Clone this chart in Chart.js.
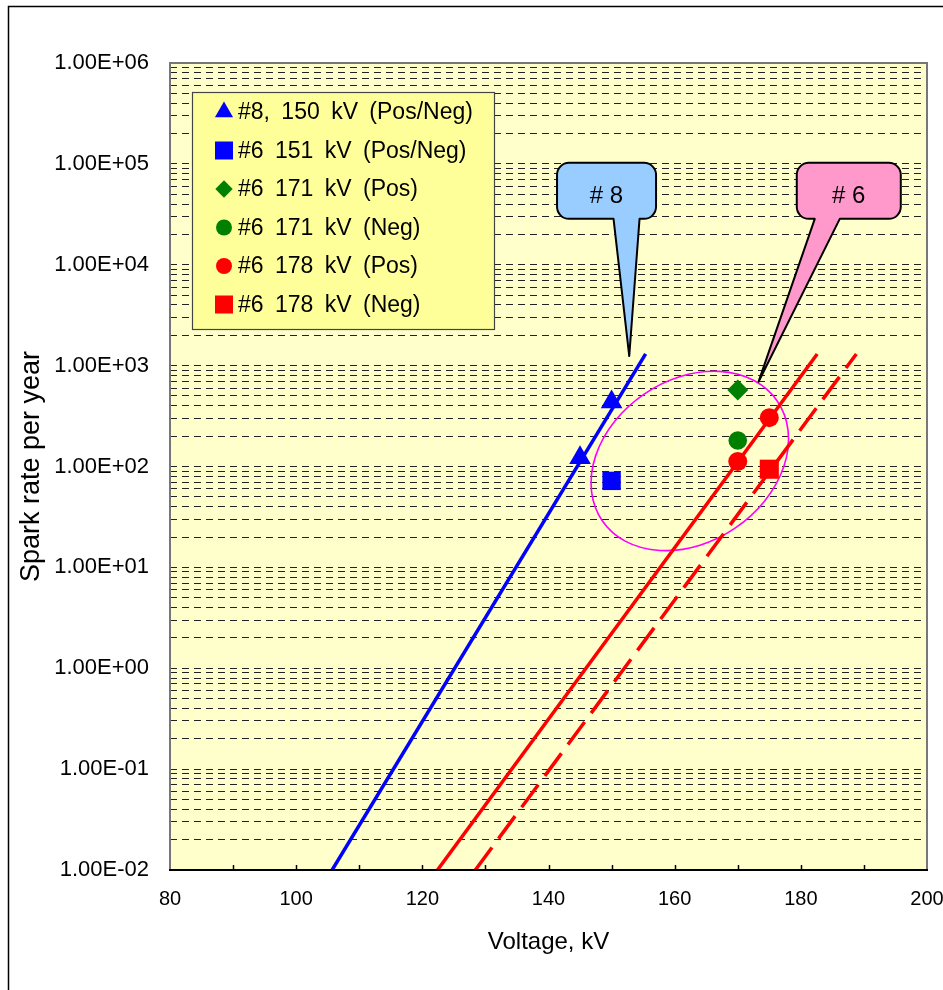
<!DOCTYPE html>
<html>
<head>
<meta charset="utf-8">
<script src="https://cdn.jsdelivr.net/npm/chart.js@4.4.1/dist/chart.umd.min.js"></script>
<style>
  html, body { margin: 0; padding: 0; background: #fff; }
</style>
</head>
<body>
<canvas id="spark" width="943" height="990"></canvas>
<script>
// measured points
const tri8X = [145, 150];
const tri8Y = [122, 437];
const sq6X = [150];
const sq6Y = [72];
const dia171X = [170];
const dia171Y = [574];
const circ171X = [170];
const circ171Y = [181];
const circ178X = [170, 175];
const circ178Y = [112, 305];
const sq178X = [175];
const sq178Y = [94];

// fitted trend lines (end points)
const fit8X = [105.7, 155.4];
const fit8Y = [0.01, 1306];
const fit6PosX = [122.4, 182.6];
const fit6PosY = [0.01, 1306];
const fit6NegX = [128.4, 188.8];
const fit6NegY = [0.01, 1306];

const legendLabels = ['#8, 150 kV (Pos/Neg)', '#6 151 kV (Pos/Neg)', '#6 171 kV (Pos)',
                      '#6 171 kV (Neg)', '#6 178 kV (Pos)', '#6 178 kV (Neg)'];
const yExponents = [-2, -1, 0, 1, 2, 3, 4, 5, 6];
const xMin = 80, xMax = 200, xStep = 20, xMinorStep = 10;

const FONT = "'Liberation Sans', Arial, sans-serif";
Chart.defaults.font.family = FONT;
Chart.defaults.color = '#000';

function pts(xs, ys) {
    return xs.map((x, i) => ({ x: x, y: ys[i] }));
}

function sci(v) {
    const p = Math.floor(Math.log10(v) + 1e-9);
    const m = v / Math.pow(10, p);
    return m.toFixed(2) + 'E' + (p < 0 ? '-' : '+') + String(Math.abs(p)).padStart(2, '0');
}

// annotations, in data units where they point at data
const ellipseNote = { x: 162.4, y: 113.5, rx: 106, ry: 81, angle: -34.3, color: '#FF00FF' };
const callouts = [
    { text: '# 8', x: 149.2, y: 5.4e4, w: 99, h: 56, base: [7, 33], tipX: 152.8, tipY: 1245, fill: '#99CCFF' },
    { text: '# 6', x: 187.6, y: 5.4e4, w: 104, h: 56, base: [-34, -9], tipX: 173.3, tipY: 693, fill: '#FF99CC' }
];

function marker(ctx, style, x, y, r, color) {
    ctx.save();
    ctx.fillStyle = color;
    ctx.beginPath();
    if (style === 'triangle') {
        ctx.moveTo(x, y - r);
        ctx.lineTo(x + r * 0.866, y + r * 0.5);
        ctx.lineTo(x - r * 0.866, y + r * 0.5);
    } else if (style === 'rect') {
        ctx.rect(x - r, y - r, 2 * r, 2 * r);
    } else if (style === 'rectRot') {
        ctx.moveTo(x - r, y); ctx.lineTo(x, y - r); ctx.lineTo(x + r, y); ctx.lineTo(x, y + r);
    } else {
        ctx.arc(x, y, r, 0, Math.PI * 2);
    }
    ctx.closePath();
    ctx.fill();
    ctx.restore();
}
const legendSize = { triangle: 10.5, rect: 9, rectRot: 8.7, circle: 8 };

const decorPlugin = {
    id: 'decor',
    beforeDraw(chart) {
        const { ctx, chartArea: a } = chart;
        ctx.save();
        ctx.fillStyle = '#FFFFCC';
        ctx.fillRect(a.left, a.top, a.right - a.left, a.bottom - a.top);
        ctx.strokeStyle = '#000';
        ctx.lineWidth = 1.5;
        ctx.strokeRect(8.5, 6.5, 1200, 1200);
        ctx.restore();
    },
    beforeDatasetsDraw(chart) {
        const { ctx, scales: { x, y } } = chart;
        const e = ellipseNote;
        ctx.save();
        ctx.strokeStyle = e.color;
        ctx.lineWidth = 1.6;
        ctx.beginPath();
        ctx.ellipse(x.getPixelForValue(e.x), y.getPixelForValue(e.y), e.rx, e.ry, e.angle * Math.PI / 180, 0, Math.PI * 2);
        ctx.stroke();
        ctx.restore();
    },
    afterDatasetsDraw(chart) {
        const { ctx, chartArea: a, scales: { x, y } } = chart;
        ctx.save();
        // plot frame
        ctx.lineWidth = 2;
        ctx.strokeStyle = '#777';
        ctx.beginPath();
        ctx.moveTo(a.left, a.bottom); ctx.lineTo(a.left, a.top); ctx.lineTo(a.right, a.top); ctx.lineTo(a.right, a.bottom);
        ctx.stroke();
        ctx.strokeStyle = '#000';
        ctx.beginPath();
        ctx.moveTo(a.left - 1, a.bottom); ctx.lineTo(a.right + 1, a.bottom);
        ctx.stroke();
        // inside tick marks on the x axis
        ctx.lineWidth = 1.5;
        for (let v = xMin + xMinorStep; v < xMax; v += xMinorStep) {
            const px = Math.round(x.getPixelForValue(v)) + 0.5;
            ctx.beginPath();
            ctx.moveTo(px, a.bottom); ctx.lineTo(px, a.bottom - 5);
            ctx.stroke();
        }

        // legend box
        const lx = a.left + 22, ly = a.top + 29, lw = 302, lh = 237;
        ctx.fillStyle = '#FFFF99';
        ctx.fillRect(lx, ly, lw, lh);
        ctx.strokeStyle = '#444';
        ctx.lineWidth = 1.2;
        ctx.strokeRect(lx + 0.5, ly + 0.5, lw, lh);
        ctx.font = '23px ' + FONT;
        ctx.textBaseline = 'middle';
        ctx.textAlign = 'left';
        if ('wordSpacing' in ctx) ctx.wordSpacing = '5px';
        let row = 0;
        chart.data.datasets.forEach(ds => {
            if (ds.noLegend) return;
            const cy = ly + 20 + row * 38.5;
            marker(ctx, ds.pointStyle, lx + 32, cy, legendSize[ds.pointStyle], ds.backgroundColor);
            ctx.fillStyle = '#000';
            ctx.fillText(ds.label, lx + 46, cy + 1);
            row++;
        });
        if ('wordSpacing' in ctx) ctx.wordSpacing = '0px';

        // callouts
        callouts.forEach(c => {
            const cx = x.getPixelForValue(c.x), cy = y.getPixelForValue(c.y);
            const tx = x.getPixelForValue(c.tipX), ty = y.getPixelForValue(c.tipY);
            const l = cx - c.w / 2, t = cy - c.h / 2, r = cx + c.w / 2, b = cy + c.h / 2, rad = 12;
            ctx.beginPath();
            ctx.moveTo(l + rad, t);
            ctx.arcTo(r, t, r, b, rad);
            ctx.arcTo(r, b, l, b, rad);
            ctx.lineTo(cx + c.base[1], b);
            ctx.lineTo(tx, ty);
            ctx.lineTo(cx + c.base[0], b);
            ctx.arcTo(l, b, l, t, rad);
            ctx.arcTo(l, t, r, t, rad);
            ctx.closePath();
            ctx.fillStyle = c.fill;
            ctx.fill();
            ctx.strokeStyle = '#000';
            ctx.lineWidth = 2;
            ctx.lineJoin = 'round';
            ctx.stroke();
            ctx.fillStyle = '#000';
            ctx.font = '24px ' + FONT;
            ctx.textAlign = 'center';
            ctx.fillText(c.text, cx, cy + 6);
        });
        ctx.restore();
    }
};

const pointSet = (label, xs, ys, style, color, radius) => ({
    label: label,
    data: pts(xs, ys),
    pointStyle: style,
    backgroundColor: color,
    borderColor: color,
    pointBorderWidth: 0,
    pointRadius: radius,
    pointHoverRadius: radius,
    showLine: false
});

const lineSet = (xs, ys, color, dash) => ({
    label: '',
    noLegend: true,
    data: pts(xs, ys),
    showLine: true,
    borderColor: color,
    borderWidth: 3.5,
    borderDash: dash,
    pointRadius: 0,
    fill: false
});

const datasets = [
    pointSet(legendLabels[0], tri8X, tri8Y, 'triangle', '#0000FF', 12.5),
    pointSet(legendLabels[1], sq6X, sq6Y, 'rect', '#0000FF', 13),
    pointSet(legendLabels[2], dia171X, dia171Y, 'rectRot', '#008000', 10.5),
    pointSet(legendLabels[3], circ171X, circ171Y, 'circle', '#008000', 9.3),
    pointSet(legendLabels[4], circ178X, circ178Y, 'circle', '#FF0000', 9.5),
    pointSet(legendLabels[5], sq178X, sq178Y, 'rect', '#FF0000', 13.5),
    lineSet(fit8X, fit8Y, '#0000FF', []),
    lineSet(fit6PosX, fit6PosY, '#FF0000', []),
    lineSet(fit6NegX, fit6NegY, '#FF0000', [28, 11])
];

const ctx = document.getElementById('spark').getContext('2d');
new Chart(ctx, {
    type: 'scatter',
    data: { datasets: datasets },
    plugins: [decorPlugin],
    options: {
        responsive: false,
        animation: false,
        events: [],
        layout: { padding: { top: 63, right: 0, bottom: 0, left: 0 } },
        plugins: {
            legend: { display: false },
            tooltip: { enabled: false }
        },
        scales: {
            x: {
                type: 'linear',
                min: xMin,
                max: xMax,
                afterFit: s => { s.height = 120; s.paddingRight = 16; s.paddingLeft = 0; },
                grid: { display: false, drawTicks: false },
                border: { display: false },
                ticks: { stepSize: xStep, padding: 17, font: { size: 20 }, color: '#000' },
                title: { display: true, text: 'Voltage, kV', font: { size: 24 }, color: '#000', padding: { top: 0, bottom: 33 } }
            },
            y: {
                type: 'logarithmic',
                min: 0.01,
                max: 1e6,
                afterFit: s => { s.width = 170; },
                afterBuildTicks: s => {
                    const t = [];
                    yExponents.forEach(p => {
                        const top = p === yExponents[yExponents.length - 1] ? 1 : 9;
                        for (let m = 1; m <= top; m++) t.push({ value: m * Math.pow(10, p) });
                    });
                    s.ticks = t;
                },
                grid: { color: '#222', lineWidth: 1, drawTicks: false },
                border: { display: false, dash: [7, 5] },
                ticks: {
                    autoSkip: false,
                    padding: 21,
                    font: { size: 22 },
                    color: '#000',
                    callback: v => {
                        const l = Math.log10(v);
                        return Math.abs(l - Math.round(l)) < 1e-6 ? sci(v) : '';
                    }
                },
                title: { display: true, text: 'Spark rate per year', font: { size: 27 }, color: '#000', padding: { top: 15, bottom: 0 } }
            }
        }
    }
});
</script>
</body>
</html>
